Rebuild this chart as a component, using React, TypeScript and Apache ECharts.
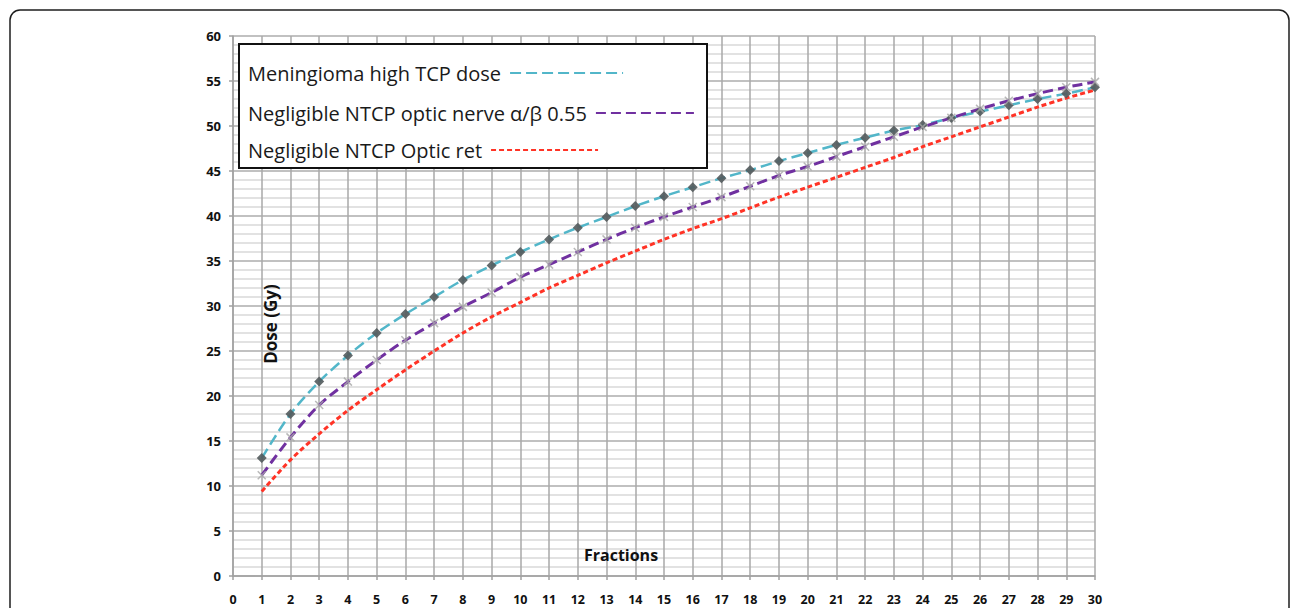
import React, { useEffect, useRef } from "react";
import * as echarts from "echarts";

const fractions = [1, 2, 3, 4, 5, 6, 7, 8, 9, 10, 11, 12, 13, 14, 15, 16, 17, 18, 19, 20, 21, 22, 23, 24, 25, 26, 27, 28, 29, 30];

const meningiomaHighTCP = [13.1, 18.0, 21.6, 24.5, 27.0, 29.1, 31.0, 32.9, 34.5, 36.0, 37.4, 38.7, 39.9, 41.1, 42.2, 43.2, 44.2, 45.1, 46.1, 47.0, 47.9, 48.7, 49.5, 50.1, 50.9, 51.6, 52.3, 53.0, 53.6, 54.3];

const opticNerveNTCP = [11.2, 15.4, 19.0, 21.6, 24.0, 26.2, 28.1, 29.9, 31.5, 33.2, 34.6, 36.0, 37.4, 38.7, 39.9, 41.0, 42.1, 43.3, 44.5, 45.5, 46.6, 47.7, 48.8, 49.9, 50.9, 51.9, 52.8, 53.6, 54.3, 54.9];

const opticRetNTCP = [9.4, 12.9, 15.8, 18.4, 20.7, 22.9, 25.0, 27.0, 28.8, 30.4, 32.0, 33.4, 34.8, 36.1, 37.4, 38.6, 39.7, 40.9, 42.1, 43.2, 44.3, 45.4, 46.5, 47.7, 48.8, 49.9, 51.0, 52.1, 53.1, 54.0];

const seriesNames = [
  "Meningioma high TCP dose",
  "Negligible NTCP optic nerve α/β 0.55",
  "Negligible NTCP Optic ret",
];

const FONT = '"Open Sans", "DejaVu Sans", sans-serif';

export default function App() {
  const ref = useRef<HTMLDivElement>(null);

  useEffect(() => {
    document.body.style.margin = "0";
    const chart = echarts.init(ref.current!, null, { renderer: "svg" });
    const pair = (vals: number[]) => fractions.map((f, i) => [f, vals[i]]);

    const legendRowTops = [63, 103, 140];
    const legendIconWidths = [113, 98, 107];
    const legends = seriesNames.map((name, i) => ({
      show: true,
      data: [name],
      orient: "horizontal",
      left: 248,
      top: legendRowTops[i],
      align: "right",
      itemWidth: legendIconWidths[i],
      itemHeight: 20,
      padding: 0,
      itemStyle: { opacity: 0 },
      textStyle: { fontFamily: FONT, fontSize: 20, color: "#1a1a1a", padding: [0, 4, 0, 0] },
      selectedMode: false,
      z: 10,
    }));

    chart.setOption({
      animation: false,
      backgroundColor: "#ffffff",
      textStyle: { fontFamily: FONT },
      grid: { left: 233, right: 197, top: 36, bottom: 32, containLabel: false },
      legend: legends,
      xAxis: {
        type: "value",
        min: 0,
        max: 30,
        interval: 1,
        axisLine: { show: true, onZero: false, lineStyle: { color: "#a0a0a0", width: 1.5 } },
        axisTick: { show: true, length: 4, lineStyle: { color: "#a0a0a0", width: 1.5 } },
        axisLabel: { fontFamily: FONT, fontSize: 12.5, fontWeight: "bold", color: "#111", margin: 17 },
        splitLine: { show: true, lineStyle: { color: "#a9a9a9", width: 1.5 } },
      },
      yAxis: {
        type: "value",
        min: 0,
        max: 60,
        interval: 5,
        axisLine: { show: true, lineStyle: { color: "#a0a0a0", width: 1.5 } },
        axisTick: { show: true, length: 4, lineStyle: { color: "#a0a0a0", width: 1.5 } },
        minorTick: { show: false, splitNumber: 5 },
        minorSplitLine: { show: true, lineStyle: { color: "#d9d9d9", width: 1.5 } },
        axisLabel: { fontFamily: FONT, fontSize: 13, fontWeight: "bold", color: "#111", margin: 12 },
        splitLine: { show: true, lineStyle: { color: "#acacac", width: 1.5 } },
      },
      graphic: [
        {
          type: "rect",
          shape: { x: 10, y: 10, width: 1279, height: 660, r: 10 },
          style: { fill: "none", stroke: "#1e1e1e", lineWidth: 1.5 },
          z: 100,
          silent: true,
        },
        {
          type: "rect",
          shape: { x: 239, y: 44, width: 468, height: 124 },
          style: { fill: "#ffffff", stroke: "#111111", lineWidth: 2 },
          z: 5,
          silent: true,
        },
        {
          type: "text",
          x: 270,
          y: 324,
          rotation: Math.PI / 2,
          style: {
            text: "Dose (Gy)",
            font: `bold 17px ${FONT}`,
            fill: "#111",
            textAlign: "center",
            textVerticalAlign: "middle",
          },
          z: 50,
        },
        {
          type: "text",
          x: 621,
          y: 555,
          style: {
            text: "Fractions",
            font: `bold 16px ${FONT}`,
            fill: "#111",
            textAlign: "center",
            textVerticalAlign: "middle",
          },
          z: 50,
        },
      ],
      series: [
        {
          name: seriesNames[0],
          type: "line",
          data: pair(meningiomaHighTCP),
          showSymbol: false,
          symbol: "none",
          smooth: 0.3,
          lineStyle: { color: "#52b6c9", width: 2.5, type: [11, 5] },
          itemStyle: { color: "#52b6c9" },
          z: 3,
        },
        {
          name: "TCP markers",
          type: "scatter",
          data: pair(meningiomaHighTCP),
          symbol: "diamond",
          symbolSize: 10,
          itemStyle: { color: "#525a5c", opacity: 0.9 },
          z: 4,
        },
        {
          name: seriesNames[1],
          type: "line",
          data: pair(opticNerveNTCP),
          showSymbol: false,
          symbol: "none",
          smooth: 0.3,
          lineStyle: { color: "#7030a0", width: 3, type: [10, 5] },
          itemStyle: { color: "#7030a0" },
          z: 3,
        },
        {
          name: "Nerve markers",
          type: "scatter",
          data: pair(opticNerveNTCP),
          symbol: "path://M0,0L10,10M10,0L0,10",
          symbolSize: 8,
          itemStyle: { color: "none", borderColor: "#a8a8a8", borderWidth: 1.5 },
          z: 4,
        },
        {
          name: seriesNames[2],
          type: "line",
          data: pair(opticRetNTCP),
          showSymbol: false,
          symbol: "none",
          smooth: 0.3,
          lineStyle: { color: "#ff3326", width: 3, type: [5, 3] },
          itemStyle: { color: "#ff3326" },
          z: 3,
        },
      ],
    });

    return () => chart.dispose();
  }, []);

  return <div ref={ref} style={{ width: 1292, height: 608 }} />;
}
